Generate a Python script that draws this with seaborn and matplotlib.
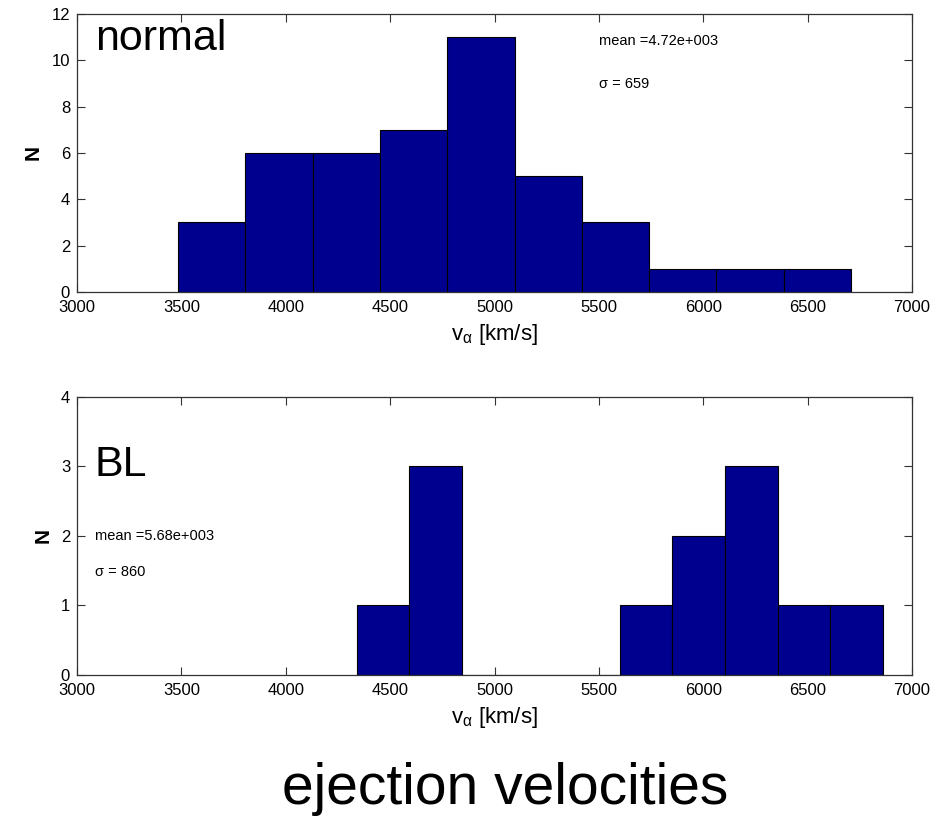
import numpy as np
import pandas as pd
import matplotlib
matplotlib.use('Agg')
import matplotlib.pyplot as plt
import seaborn as sns

# top panel: "normal" events
normal_edges = [3484, 3806, 4129, 4451, 4774, 5096, 5418, 5741, 6063, 6386, 6708]
normal_counts = [3, 6, 6, 7, 11, 5, 3, 1, 1, 1]

# bottom panel: "BL" events
bl_edges = [4340, 4592, 4844, 5096, 5348, 5600, 5852, 6104, 6356, 6608, 6860]
bl_counts = [1, 3, 0, 0, 0, 1, 2, 3, 1, 1]

xticks = [3000, 3500, 4000, 4500, 5000, 5500, 6000, 6500, 7000]
normal_yticks = [0, 2, 4, 6, 8, 10, 12]
bl_yticks = [0, 1, 2, 3, 4]

bar_color = '#00008f'

sns.set_style('ticks')
plt.rcParams['font.family'] = ['Liberation Sans', 'DejaVu Sans']
plt.rcParams['mathtext.fontset'] = 'custom'
plt.rcParams['mathtext.rm'] = 'Liberation Sans'
plt.rcParams['mathtext.it'] = 'Liberation Sans'
plt.rcParams['mathtext.default'] = 'regular'
plt.rcParams['text.color'] = 'black'
plt.rcParams['axes.labelcolor'] = 'black'

fig = plt.figure(figsize=(9.45, 8.18), dpi=100)
ax1 = fig.add_axes([0.0815, 0.643, 0.8836, 0.340])
ax2 = fig.add_axes([0.0815, 0.1748, 0.8836, 0.340])


def draw_hist(ax, edges, counts, yticks):
    e = np.array(edges, dtype=float)
    df = pd.DataFrame({'v': (e[:-1] + e[1:]) / 2, 'n': counts})
    sns.histplot(data=df, x='v', weights='n', bins=list(edges), color=bar_color,
                 edgecolor='black', linewidth=0.8, alpha=1, ax=ax)
    ax.set_xlim(3000, 7000)
    ax.set_ylim(yticks[0], yticks[-1])
    ax.set_xticks(xticks)
    ax.set_yticks(yticks)
    ax.tick_params(direction='in', top=True, right=True, length=6,
                   width=0.8, labelsize=12, colors='#333333', labelcolor='black')
    ax.tick_params(axis='x', pad=6)
    ax.tick_params(axis='y', pad=5)
    for sp in ax.spines.values():
        sp.set_visible(True)
        sp.set_color('#333333')
        sp.set_linewidth(0.9)
    ax.set_xlabel(r'$v_{\alpha}$ [km/s]', fontsize=16, labelpad=5)
    ax.set_ylabel('N', fontsize=15, fontweight='bold', labelpad=6)


draw_hist(ax1, normal_edges, normal_counts, normal_yticks)
draw_hist(ax2, bl_edges, bl_counts, bl_yticks)

ax1.text(3086, 10.9, 'normal', fontsize=31, va='center', ha='left')
ax1.text(5500, 10.85, 'mean =4.72e+003', fontsize=10.5, va='center', ha='left')
ax1.text(5500, 8.98, '\u03c3 = 659', fontsize=10.5, va='center', ha='left')

ax2.text(3086, 3.02, 'BL', fontsize=31, va='center', ha='left')
ax2.text(3086, 2.0, 'mean =5.68e+003', fontsize=10.5, va='center', ha='left')
ax2.text(3086, 1.48, '\u03c3 = 860', fontsize=10.5, va='center', ha='left')

fig.text(0.535, 0.035, 'ejection velocities', fontsize=41, ha='center', va='center')

fig.savefig('out.png', dpi=100)
